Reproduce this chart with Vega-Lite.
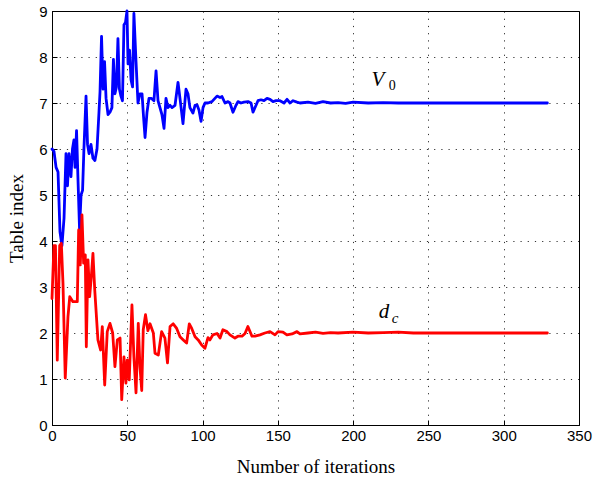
{
  "$schema": "https://vega.github.io/schema/vega-lite/v6.json",
  "width": 527,
  "height": 414,
  "autosize": "none",
  "padding": {"left": 52, "top": 11, "right": 14, "bottom": 59},
  "background": "white",
  "config": {
    "view": {"stroke": "black", "strokeWidth": 1},
    "axis": {
      "domainColor": "black",
      "tickColor": "black",
      "labelColor": "black",
      "labelFont": "Liberation Sans",
      "labelFontSize": 15,
      "labelFlush": false,
      "titleFont": "Liberation Serif",
      "titleFontSize": 19,
      "titleFontWeight": "normal",
      "titleColor": "black",
      "grid": true,
      "gridColor": "black",
      "gridOpacity": 0.8,
      "gridDash": [1.2, 6],
      "tickSize": -5
    }
  },
  "datasets": {
    "v0": [
      {"iter": 0, "value": 6.0}, {"iter": 1.3, "value": 5.95}, {"iter": 2.7, "value": 5.6}, {"iter": 4.0, "value": 5.5},
      {"iter": 5.3, "value": 4.2}, {"iter": 6.6, "value": 3.9}, {"iter": 8.0, "value": 4.5}, {"iter": 9.3, "value": 5.9},
      {"iter": 10.3, "value": 5.2}, {"iter": 11.3, "value": 5.9}, {"iter": 12.6, "value": 5.4}, {"iter": 13.6, "value": 6.0},
      {"iter": 14.6, "value": 6.2}, {"iter": 15.3, "value": 5.6}, {"iter": 16.3, "value": 6.4}, {"iter": 17.3, "value": 5.3},
      {"iter": 18.3, "value": 4.25}, {"iter": 19.3, "value": 5.0}, {"iter": 20.3, "value": 5.1}, {"iter": 21.2, "value": 6.0},
      {"iter": 22.6, "value": 7.15}, {"iter": 23.6, "value": 6.1}, {"iter": 24.6, "value": 5.9}, {"iter": 25.9, "value": 6.1},
      {"iter": 27.2, "value": 5.8}, {"iter": 28.5, "value": 5.75}, {"iter": 29.9, "value": 6.0}, {"iter": 31.2, "value": 6.8},
      {"iter": 31.9, "value": 7.25}, {"iter": 32.9, "value": 8.45}, {"iter": 33.9, "value": 7.3}, {"iter": 34.9, "value": 7.9},
      {"iter": 35.9, "value": 7.1}, {"iter": 37.2, "value": 6.75}, {"iter": 38.5, "value": 6.8}, {"iter": 39.8, "value": 6.9},
      {"iter": 40.8, "value": 7.95}, {"iter": 41.8, "value": 7.2}, {"iter": 42.8, "value": 7.35}, {"iter": 43.8, "value": 8.4},
      {"iter": 44.8, "value": 7.3}, {"iter": 45.8, "value": 7.15}, {"iter": 46.8, "value": 7.05}, {"iter": 47.8, "value": 8.7},
      {"iter": 48.8, "value": 8.75}, {"iter": 49.8, "value": 9.0}, {"iter": 50.5, "value": 7.85}, {"iter": 51.5, "value": 8.15},
      {"iter": 52.5, "value": 7.5}, {"iter": 53.5, "value": 7.35}, {"iter": 54.4, "value": 8.95}, {"iter": 55.8, "value": 7.9},
      {"iter": 57.1, "value": 7.0}, {"iter": 58.4, "value": 7.2}, {"iter": 59.8, "value": 7.2}, {"iter": 60.8, "value": 6.7},
      {"iter": 61.8, "value": 6.25}, {"iter": 63.1, "value": 6.8}, {"iter": 64.4, "value": 7.1}, {"iter": 66.1, "value": 7.1},
      {"iter": 67.7, "value": 7.05}, {"iter": 69.1, "value": 7.7}, {"iter": 70.4, "value": 7.05}, {"iter": 71.7, "value": 6.9},
      {"iter": 73.0, "value": 6.75}, {"iter": 74.4, "value": 6.45}, {"iter": 75.7, "value": 7.1}, {"iter": 77.0, "value": 6.9},
      {"iter": 78.4, "value": 6.95}, {"iter": 79.7, "value": 6.9}, {"iter": 81.7, "value": 6.95}, {"iter": 83.7, "value": 7.45},
      {"iter": 85.0, "value": 7.1}, {"iter": 87.0, "value": 6.55}, {"iter": 89.0, "value": 7.3}, {"iter": 90.3, "value": 7.2},
      {"iter": 91.6, "value": 6.9}, {"iter": 93.6, "value": 6.78}, {"iter": 95.0, "value": 6.95}, {"iter": 96.3, "value": 6.96},
      {"iter": 97.6, "value": 6.85}, {"iter": 99.0, "value": 6.6}, {"iter": 100.3, "value": 6.9}, {"iter": 101.6, "value": 7.0},
      {"iter": 103.6, "value": 7.0}, {"iter": 106.2, "value": 7.03}, {"iter": 108.2, "value": 7.1}, {"iter": 109.6, "value": 7.15},
      {"iter": 111.6, "value": 7.12}, {"iter": 112.9, "value": 7.14}, {"iter": 114.9, "value": 7.0}, {"iter": 116.9, "value": 7.03},
      {"iter": 118.2, "value": 7.0}, {"iter": 120.2, "value": 6.8}, {"iter": 122.2, "value": 6.95}, {"iter": 123.5, "value": 7.03},
      {"iter": 125.5, "value": 7.0}, {"iter": 127.5, "value": 7.02}, {"iter": 130.2, "value": 7.03}, {"iter": 132.2, "value": 7.0},
      {"iter": 133.5, "value": 6.8}, {"iter": 135.5, "value": 6.95}, {"iter": 136.8, "value": 7.05}, {"iter": 138.8, "value": 7.07},
      {"iter": 140.8, "value": 7.05}, {"iter": 142.8, "value": 7.1}, {"iter": 144.8, "value": 7.08}, {"iter": 146.8, "value": 7.03},
      {"iter": 148.8, "value": 7.05}, {"iter": 151.4, "value": 7.05}, {"iter": 154.1, "value": 7.0}, {"iter": 156.1, "value": 7.08},
      {"iter": 158.1, "value": 7.0}, {"iter": 160.1, "value": 7.05}, {"iter": 162.7, "value": 7.02}, {"iter": 164.7, "value": 7.0},
      {"iter": 170, "value": 7.02}, {"iter": 175, "value": 6.99}, {"iter": 180, "value": 7.03}, {"iter": 185, "value": 7.0},
      {"iter": 190, "value": 7.01}, {"iter": 195, "value": 6.99}, {"iter": 200, "value": 7.02}, {"iter": 210, "value": 7.0},
      {"iter": 220, "value": 7.01}, {"iter": 230, "value": 7.0}, {"iter": 240, "value": 7.0}, {"iter": 260, "value": 7.0},
      {"iter": 280, "value": 7.0}, {"iter": 300, "value": 7.0}, {"iter": 329, "value": 7.0}
    ],
    "dc": [
      {"iter": 0, "value": 2.75}, {"iter": 1.3, "value": 3.9}, {"iter": 2.3, "value": 3.9}, {"iter": 3.5, "value": 1.41},
      {"iter": 5.1, "value": 3.9}, {"iter": 6.2, "value": 3.95}, {"iter": 7.3, "value": 3.08}, {"iter": 8.8, "value": 1.02},
      {"iter": 10.6, "value": 2.35}, {"iter": 11.8, "value": 2.79}, {"iter": 13.9, "value": 2.68}, {"iter": 16.8, "value": 2.68},
      {"iter": 17.7, "value": 4.24}, {"iter": 18.8, "value": 3.48}, {"iter": 19.9, "value": 4.57}, {"iter": 21.0, "value": 3.52},
      {"iter": 22.1, "value": 3.7}, {"iter": 22.8, "value": 1.7}, {"iter": 23.9, "value": 3.59}, {"iter": 25.0, "value": 2.79},
      {"iter": 26.1, "value": 3.22}, {"iter": 27.2, "value": 3.73}, {"iter": 28.4, "value": 2.93}, {"iter": 30.5, "value": 1.85},
      {"iter": 32.3, "value": 1.63}, {"iter": 33.4, "value": 2.14}, {"iter": 35.0, "value": 0.87}, {"iter": 36.7, "value": 2.03},
      {"iter": 38.5, "value": 2.21}, {"iter": 40.3, "value": 2.0}, {"iter": 41.8, "value": 1.27}, {"iter": 43.4, "value": 1.85},
      {"iter": 45.2, "value": 1.89}, {"iter": 46.3, "value": 0.55}, {"iter": 47.8, "value": 1.48}, {"iter": 49.1, "value": 0.91},
      {"iter": 50.0, "value": 1.41}, {"iter": 51.3, "value": 0.98}, {"iter": 53.1, "value": 2.61}, {"iter": 54.4, "value": 1.48},
      {"iter": 55.8, "value": 0.7}, {"iter": 57.3, "value": 2.21}, {"iter": 58.4, "value": 1.27}, {"iter": 59.6, "value": 0.75},
      {"iter": 60.6, "value": 2.07}, {"iter": 62.1, "value": 2.4}, {"iter": 63.7, "value": 2.05}, {"iter": 65.1, "value": 2.2},
      {"iter": 67.3, "value": 2.0}, {"iter": 68.4, "value": 1.56}, {"iter": 70.6, "value": 1.52}, {"iter": 72.8, "value": 2.03},
      {"iter": 75.0, "value": 1.89}, {"iter": 76.7, "value": 1.35}, {"iter": 78.4, "value": 2.14}, {"iter": 80.5, "value": 2.2},
      {"iter": 82.8, "value": 2.1}, {"iter": 85.0, "value": 1.92}, {"iter": 87.2, "value": 1.85}, {"iter": 89.4, "value": 1.78},
      {"iter": 91.2, "value": 2.2}, {"iter": 92.8, "value": 2.1}, {"iter": 95.0, "value": 1.92}, {"iter": 97.1, "value": 1.85},
      {"iter": 99.4, "value": 1.74}, {"iter": 101.6, "value": 1.67}, {"iter": 103.6, "value": 1.9}, {"iter": 104.9, "value": 1.85},
      {"iter": 106.9, "value": 1.96}, {"iter": 109.6, "value": 1.99}, {"iter": 111.6, "value": 1.89}, {"iter": 113.5, "value": 2.07},
      {"iter": 116.2, "value": 2.03}, {"iter": 118.2, "value": 1.96}, {"iter": 121.5, "value": 1.89}, {"iter": 123.5, "value": 1.93},
      {"iter": 126.2, "value": 1.93}, {"iter": 128.2, "value": 1.99}, {"iter": 130.1, "value": 2.14}, {"iter": 132.8, "value": 1.93},
      {"iter": 134.8, "value": 1.93}, {"iter": 138.1, "value": 1.96}, {"iter": 141.4, "value": 2.0}, {"iter": 144.8, "value": 2.03},
      {"iter": 148.1, "value": 1.96}, {"iter": 150.1, "value": 2.03}, {"iter": 153.4, "value": 2.02}, {"iter": 156.0, "value": 1.96},
      {"iter": 159.4, "value": 1.98}, {"iter": 162.7, "value": 2.03}, {"iter": 164.7, "value": 1.98}, {"iter": 170, "value": 2.0},
      {"iter": 175, "value": 2.02}, {"iter": 180, "value": 1.99}, {"iter": 185, "value": 2.01}, {"iter": 190, "value": 2.0},
      {"iter": 200, "value": 2.02}, {"iter": 210, "value": 2.0}, {"iter": 220, "value": 2.01}, {"iter": 230, "value": 2.02},
      {"iter": 240, "value": 2.0}, {"iter": 260, "value": 2.0}, {"iter": 280, "value": 2.0}, {"iter": 300, "value": 2.0},
      {"iter": 329, "value": 2.0}
    ],
    "mainLabels": [
      {"iter": 216.5, "value": 7.5, "text": "V"},
      {"iter": 220.5, "value": 2.46, "text": "d"}
    ],
    "subZero": [
      {"iter": 226, "value": 7.36, "text": "0"}
    ],
    "subC": [
      {"iter": 227.8, "value": 2.33, "text": "c"}
    ]
  },
  "encoding": {
    "x": {
      "field": "iter", "type": "quantitative",
      "scale": {"domain": [0, 350], "nice": false},
      "axis": {"values": [0, 50, 100, 150, 200, 250, 300, 350], "title": "Number of iterations", "titlePadding": 14, "labelPadding": 8}
    },
    "y": {
      "field": "value", "type": "quantitative",
      "scale": {"domain": [0, 9], "nice": false},
      "axis": {"values": [0, 1, 2, 3, 4, 5, 6, 7, 8, 9], "title": "Table index", "titlePadding": 12, "labelPadding": 10}
    }
  },
  "layer": [
    {"data": {"name": "v0"}, "mark": {"type": "line", "color": "#0000ff", "strokeWidth": 2.8, "strokeJoin": "round", "strokeCap": "round"}},
    {"data": {"name": "dc"}, "mark": {"type": "line", "color": "#ff0000", "strokeWidth": 2.8, "strokeJoin": "round", "strokeCap": "round"}},
    {"data": {"name": "mainLabels"}, "mark": {"type": "text", "font": "Liberation Serif", "fontStyle": "italic", "fontSize": 21, "color": "black", "baseline": "middle", "align": "center"}, "encoding": {"text": {"field": "text"}}},
    {"data": {"name": "subZero"}, "mark": {"type": "text", "font": "Liberation Serif", "fontSize": 14, "color": "black", "baseline": "middle", "align": "center"}, "encoding": {"text": {"field": "text"}}},
    {"data": {"name": "subC"}, "mark": {"type": "text", "font": "Liberation Serif", "fontStyle": "italic", "fontSize": 15, "color": "black", "baseline": "middle", "align": "center"}, "encoding": {"text": {"field": "text"}}}
  ]
}
